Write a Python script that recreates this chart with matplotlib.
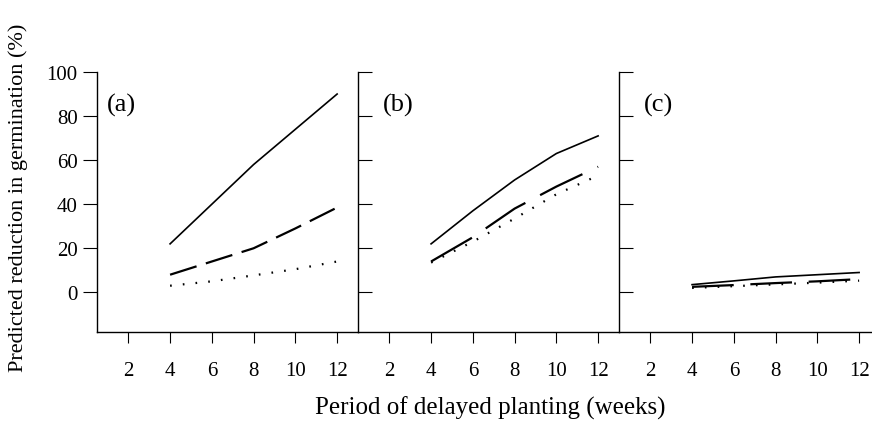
import matplotlib
matplotlib.use("Agg")
import matplotlib.pyplot as plt

plt.rcParams["font.family"] = ["Liberation Serif", "DejaVu Serif"]
plt.rcParams["lines.scale_dashes"] = False

# weeks of delayed planting
weeks = [4, 6, 8, 10, 12]

# panel (a)
a_solid = [22, 40, 58, 74, 90]
a_dashed = [8, 14, 20, 29, 38.5]
a_dotted = [3, 5, 7.7, 10.5, 14]

# panel (b)
b_solid = [22, 37, 51, 63, 71]
b_dashed = [14, 25, 38, 48, 57]
b_dotted = [13.5, 23, 33.5, 44.5, 53]

# panel (c)
c_solid = [3.5, 5.2, 7, 8, 9]
c_dashed = [2.5, 3.3, 4.2, 5, 6]
c_dotted = [2, 2.8, 3.6, 4.4, 5.3]

xticks = [2, 4, 6, 8, 10, 12]
yticks = [0, 20, 40, 60, 80, 100]
labels = ["(a)", "(b)", "(c)"]

fig = plt.figure(figsize=(8.72, 4.27), dpi=100)

lefts = [97 / 872, 358 / 872, 619 / 872]
w = 261 / 872
bottom = 1 - 333 / 427
h = 260 / 427

panels = [
    (a_solid, a_dashed, a_dotted, (20, 7), 8),
    (b_solid, b_dashed, b_dotted, (34, 12), 8),
    (c_solid, c_dashed, c_dotted, (30, 12), 8),
]

for i, (solid, dashed, dotted, dash, dotgap) in enumerate(panels):
    ax = fig.add_axes([lefts[i], bottom, w, h])
    ax.plot(weeks, solid, color="black", lw=1.2)
    ax.plot(weeks, dashed, color="black", lw=1.6, dashes=dash)
    ax.plot(weeks, dotted, color="black", lw=1.6, dashes=(1.2, dotgap))
    ax.set_xlim(0.5, 13.0)
    ax.set_ylim(-18, 100)
    ax.set_xticks(xticks)
    ax.set_yticks(yticks)
    for s in ["top", "right"]:
        ax.spines[s].set_visible(False)
    for s in ["left", "bottom"]:
        ax.spines[s].set_linewidth(1.0)
    ax.tick_params(axis="x", direction="out", length=8, width=0.8,
                   labelsize=15, pad=13)
    if i == 0:
        ax.tick_params(axis="y", direction="out", length=10, width=0.8,
                       labelsize=15, pad=4)
    else:
        ax.tick_params(axis="y", direction="in", length=10, width=0.8,
                       labelleft=False)
    lx = 0.038 if i == 0 else 0.096
    ax.text(lx, 0.877, labels[i], transform=ax.transAxes, fontsize=19,
            va="center", ha="left")

fig.text(490 / 872, 1 - 408 / 427, "Period of delayed planting (weeks)",
         ha="center", va="center", fontsize=18)
fig.text(18 / 872, 1 - 198 / 427, "Predicted reduction in germination (%)",
         ha="center", va="center", rotation=90, fontsize=16)

fig.savefig("out.png", dpi=100)
